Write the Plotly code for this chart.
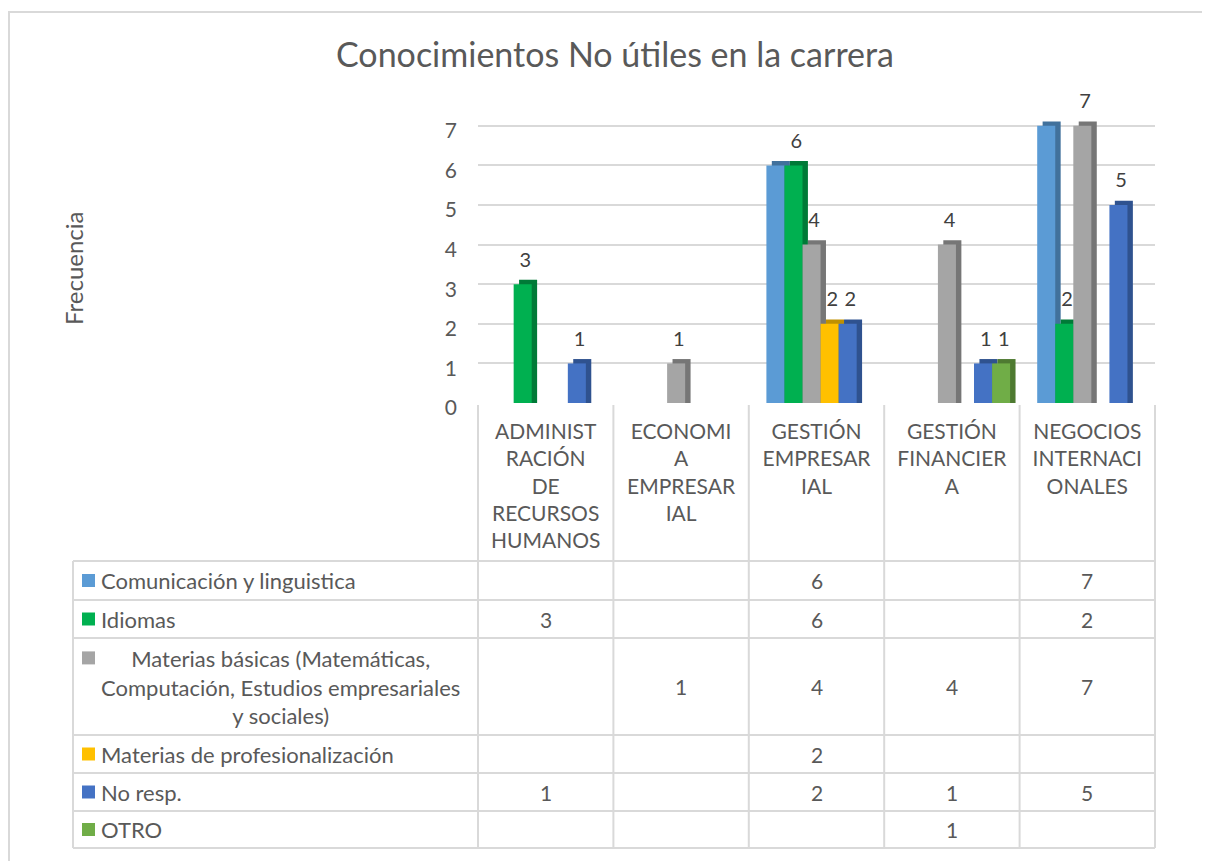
import plotly.graph_objects as go

# ---------------- data ----------------
categories = ["ADMINISTRACIÓN DE RECURSOS HUMANOS", "ECONOMIA EMPRESARIAL",
              "GESTIÓN EMPRESARIAL", "GESTIÓN FINANCIERA", "NEGOCIOS INTERNACIONALES"]
category_ticktext = ["ADMINIST<br>RACIÓN<br>DE<br>RECURSOS<br>HUMANOS",
                     "ECONOMI<br>A<br>EMPRESAR<br>IAL",
                     "GESTIÓN<br>EMPRESAR<br>IAL",
                     "GESTIÓN<br>FINANCIER<br>A",
                     "NEGOCIOS<br>INTERNACI<br>ONALES"]

series_names = ["Comunicación y linguistica", "Idiomas",
                "Materias básicas (Matemáticas, Computación, Estudios empresariales y sociales)",
                "Materias de profesionalización", "No resp.", "OTRO"]
series_table_labels = ["Comunicación y linguistica", "Idiomas",
                       "Materias básicas (Matemáticas,<br>Computación, Estudios empresariales<br>y sociales)",
                       "Materias de profesionalización", "No resp.", "OTRO"]

comunicacion = [None, None, 6, None, 7]
idiomas = [3, None, 6, None, 2]
materias_basicas = [None, 1, 4, 4, 7]
materias_prof = [None, None, 2, None, None]
no_resp = [1, None, 2, 1, 5]
otro = [None, None, None, 1, None]
series_values = [comunicacion, idiomas, materias_basicas, materias_prof, no_resp, otro]
show_labels = [False, True, True, True, True, True]

y_ticks = [0, 1, 2, 3, 4, 5, 6, 7]

# ---------------- style ----------------
front_colors = ["#5B9BD5", "#00B050", "#A5A5A5", "#FFC000", "#4472C4", "#70AD47"]
side_colors = ["#41719C", "#007A37", "#767676", "#BF9000", "#2F528F", "#4E7A31"]
FONT = "Lato, Calibri, sans-serif"
TXT = "#595959"
GRID = "#D9D9D9"

OFF = 8                          # page offset of the figure (body margin)
W, H = 1210 - OFF, 861 - OFF
PL, PR, PT, PB = 478, 1155, 110, 403      # plot area in page pixels
YMAX = 7.4


def pxx(p):
    return (p - PL) / (PR - PL)


def pxy(p):
    return (PB - p) / (PB - PT)


n = len(series_values)
slot = 0.8 / n
base = -0.37          # slight perspective shift of the group
dx = 0.04             # depth of the 3D side face (x units)
dy = 0.11             # depth of the 3D top face (y units)
label_gap = 0.16      # extra room between bar top and its value label (y units)

fig = go.Figure()

# back (side/top) faces first
for k, vals in enumerate(series_values):
    fig.add_trace(go.Bar(
        x=categories, y=[None if v is None else v + dy for v in vals],
        offset=base + k * slot + dx, width=slot,
        marker=dict(color=side_colors[k], line=dict(width=0)),
        showlegend=False, hoverinfo="skip"))

# front faces
for k, vals in enumerate(series_values):
    fig.add_trace(go.Bar(
        x=categories, y=vals, name=series_names[k],
        offset=base + k * slot, width=slot,
        marker=dict(color=front_colors[k], line=dict(width=0)),
        showlegend=False))

# value labels (transparent carriers slightly above each bar)
for k, vals in enumerate(series_values):
    if not show_labels[k]:
        continue
    fig.add_trace(go.Bar(
        x=categories, y=[None if v is None else v + dy + label_gap for v in vals],
        offset=base + k * slot + dx / 2, width=slot,
        marker=dict(color="rgba(0,0,0,0)", line=dict(width=0)),
        text=[("" if v is None else str(v)) for v in vals],
        textposition="outside", constraintext="none", cliponaxis=False,
        textfont=dict(family=FONT, size=20, color="#404040"),
        showlegend=False, hoverinfo="skip"))

shapes = []
annotations = []

# chart outer border (left/top visible, rest cropped)
shapes.append(dict(type="rect", xref="paper", yref="paper",
                   x0=pxx(9), x1=pxx(1216), y0=pxy(12), y1=pxy(868),
                   line=dict(color=GRID, width=2), layer="below"))

# data table
row_edges = [561, 600, 638, 735, 773, 811, 848]
TABLE_LEFT = 73
for yy in row_edges:
    shapes.append(dict(type="line", xref="paper", yref="paper",
                       x0=pxx(TABLE_LEFT), x1=1, y0=pxy(yy), y1=pxy(yy),
                       line=dict(color=GRID, width=2)))
shapes.append(dict(type="line", xref="paper", yref="paper",
                   x0=pxx(TABLE_LEFT), x1=pxx(TABLE_LEFT), y0=pxy(row_edges[0]), y1=pxy(row_edges[-1]),
                   line=dict(color=GRID, width=2)))
for j in range(len(categories) + 1):
    xp = j / len(categories)
    shapes.append(dict(type="line", xref="paper", yref="paper",
                       x0=xp, x1=xp, y0=pxy(405), y1=pxy(row_edges[-1]),
                       line=dict(color=GRID, width=2)))

TABLE_FONT = 22
LINE_H = 1.3 * TABLE_FONT
for r, lbl in enumerate(series_table_labels):
    yc = (row_edges[r] + row_edges[r + 1]) / 2
    nlines = lbl.count("<br>") + 1
    first = yc - (nlines - 1) * LINE_H / 2
    shapes.append(dict(type="rect", xref="paper", yref="paper",
                       x0=pxx(82), x1=pxx(95), y0=pxy(first - 6.5), y1=pxy(first + 6.5),
                       fillcolor=front_colors[r], line=dict(width=0)))
    annotations.append(dict(text=lbl, xref="paper", yref="paper", x=pxx(99), y=pxy(yc),
                            xanchor="left", yanchor="middle", align="center", showarrow=False,
                            font=dict(family=FONT, size=TABLE_FONT, color=TXT)))
    for i, v in enumerate(series_values[r]):
        if v is not None:
            annotations.append(dict(text=str(v), xref="x", yref="paper", x=categories[i], y=pxy(yc),
                                    xanchor="center", yanchor="middle", showarrow=False,
                                    font=dict(family=FONT, size=21, color=TXT)))

# y-axis title
annotations.append(dict(text="Frecuencia", xref="paper", yref="paper", x=pxx(73), y=pxy(268),
                        textangle=-90, showarrow=False, xanchor="center", yanchor="middle",
                        font=dict(family=FONT, size=24, color=TXT)))

fig.update_layout(
    width=W, height=H, autosize=False,
    margin=dict(l=PL - OFF, r=W + OFF - PR, t=PT - OFF, b=H + OFF - PB),
    paper_bgcolor="white", plot_bgcolor="white",
    barmode="overlay",
    title=dict(text="Conocimientos No útiles en la carrera", x=(615 - OFF) / W, xref="container",
               y=1 - (55 - OFF) / H, yref="container", xanchor="center", yanchor="middle",
               font=dict(family=FONT, size=34, color=TXT)),
    xaxis=dict(type="category", categoryorder="array", categoryarray=categories,
               tickvals=categories, ticktext=category_ticktext, range=[-0.5, len(categories) - 0.5],
               showgrid=False, showline=False, zeroline=False, ticks="",
               tickfont=dict(family=FONT, size=21, color=TXT), ticklabelstandoff=14),
    yaxis=dict(range=[0, YMAX], tickvals=y_ticks, showgrid=True, gridcolor=GRID, gridwidth=2,
               zeroline=False, showline=False, ticks="",
               tickfont=dict(family=FONT, size=21, color=TXT), ticklabelstandoff=20,
               ticklabelshift=5),
    shapes=shapes, annotations=annotations,
)

fig.write_html("out.html")
